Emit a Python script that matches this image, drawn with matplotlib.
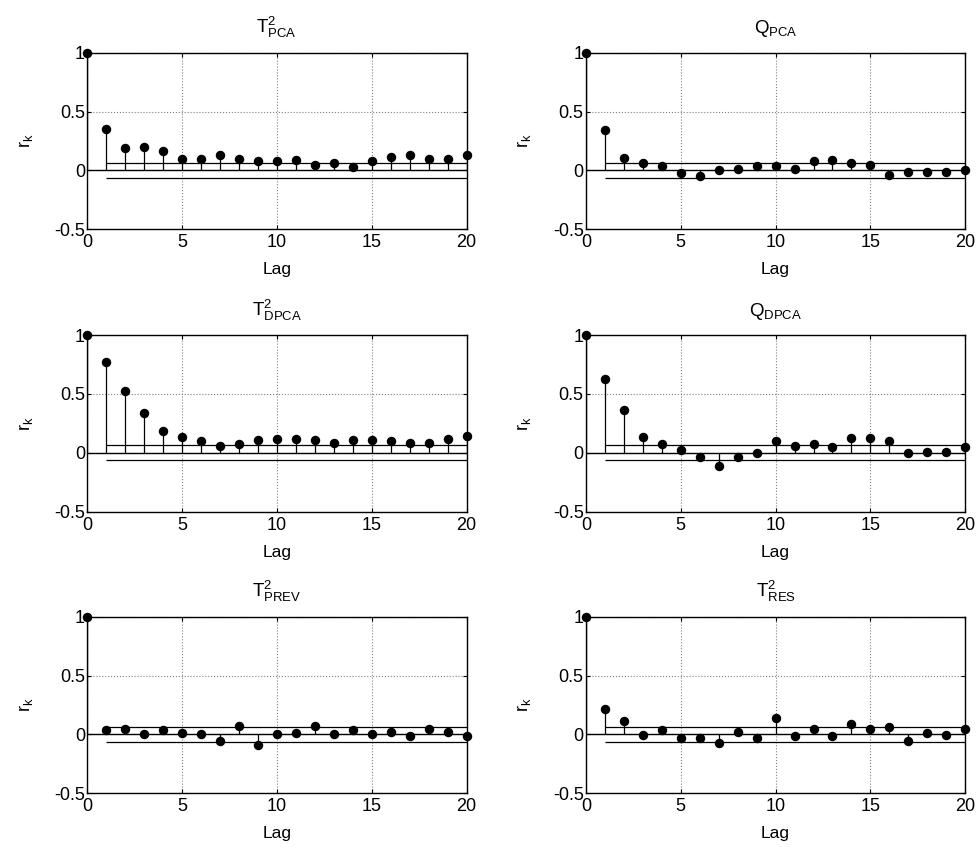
import numpy as np
import matplotlib
matplotlib.use("Agg")
import matplotlib.pyplot as plt

plt.rcParams['font.family'] = ['Liberation Sans', 'DejaVu Sans']
plt.rcParams['mathtext.fontset'] = 'custom'
plt.rcParams['mathtext.rm'] = 'Liberation Sans'
plt.rcParams['mathtext.it'] = 'Liberation Sans'

lags = np.arange(0, 21)

t2_pca = [1.0, 0.353, 0.19, 0.20, 0.165, 0.10, 0.10, 0.127, 0.10, 0.076, 0.076,
          0.09, 0.05, 0.065, 0.025, 0.076, 0.115, 0.127, 0.10, 0.10, 0.127]
q_pca = [1.0, 0.344, 0.105, 0.065, 0.04, -0.026, -0.05, 0.0, 0.014, 0.04, 0.04,
         0.014, 0.077, 0.09, 0.065, 0.05, -0.037, -0.011, -0.011, -0.011, 0.0]
t2_dpca = [1.0, 0.77, 0.524, 0.335, 0.183, 0.135, 0.10, 0.062, 0.073, 0.11, 0.121,
           0.121, 0.11, 0.085, 0.11, 0.11, 0.10, 0.085, 0.085, 0.121, 0.146]
q_dpca = [1.0, 0.623, 0.36, 0.138, 0.073, 0.023, -0.039, -0.115, -0.039, 0.0, 0.10,
          0.062, 0.073, 0.048, 0.124, 0.124, 0.10, -0.003, 0.011, 0.011, 0.05]
t2_prev = [1.0, 0.034, 0.049, 0.0, 0.034, 0.011, 0.0, -0.054, 0.074, -0.091, 0.0,
           0.011, 0.074, 0.0, 0.034, 0.0, 0.023, -0.014, 0.049, 0.023, -0.014]
t2_res = [1.0, 0.214, 0.111, -0.003, 0.034, -0.029, -0.029, -0.069, 0.023, -0.029, 0.137,
          -0.014, 0.049, -0.014, 0.086, 0.049, 0.06, -0.054, 0.011, -0.003, 0.049]

conf_upper = 0.066
conf_lower = -0.062

titles = [r'$\mathregular{T^2_{PCA}}$', r'$\mathregular{Q_{PCA}}$',
          r'$\mathregular{T^2_{DPCA}}$', r'$\mathregular{Q_{DPCA}}$',
          r'$\mathregular{T^2_{PREV}}$', r'$\mathregular{T^2_{RES}}$']
series = [t2_pca, q_pca, t2_dpca, q_dpca, t2_prev, t2_res]

fig = plt.figure(figsize=(9.78, 8.47), dpi=100)
lefts = [0.089, 0.599]
bottoms = [0.7293, 0.3959, 0.0634]
W, H = 0.388, 0.2085

for i, (vals, title) in enumerate(zip(series, titles)):
    r, c = divmod(i, 2)
    ax = fig.add_axes([lefts[c], bottoms[r], W, H])
    vals = np.asarray(vals)
    ax.vlines(lags, 0, vals, color='black', lw=0.9, zorder=3)
    ax.plot(lags, vals, 'o', color='black', ms=5.8, clip_on=False, zorder=4)
    ax.axhline(0, color='black', lw=1.0, zorder=2)
    ax.hlines([conf_upper, conf_lower], 1, 20, color='black', lw=0.9, zorder=2)
    ax.set_xlim(0, 20)
    ax.set_ylim(-0.5, 1)
    ax.set_xticks([0, 5, 10, 15, 20])
    ax.set_yticks([-0.5, 0, 0.5, 1])
    ax.set_yticklabels(['-0.5', '0', '0.5', '1'])
    ax.grid(True, linestyle=':', color='#808080', lw=0.8)
    ax.tick_params(direction='in', top=True, right=True, labelsize=13,
                   length=3)
    ax.tick_params(axis='x', pad=3.5)
    ax.tick_params(axis='y', pad=1.5)
    for s in ax.spines.values():
        s.set_linewidth(1.0)
    ax.set_xlabel('Lag', fontsize=12.5, labelpad=8)
    ax.set_ylabel(r'r$_\mathregular{k}$', fontsize=13, labelpad=14)
    ax.set_title(title, fontsize=13.5, pad=14)

fig.savefig('out.png', dpi=100)
